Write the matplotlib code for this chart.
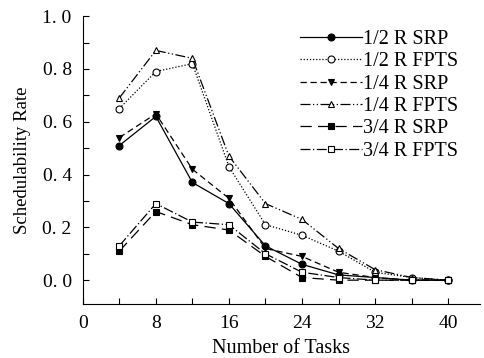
import matplotlib
matplotlib.use("Agg")
from matplotlib import pyplot as plt
import matplotlib.ticker

tasks = [4, 8, 12, 16, 20, 24, 28, 32, 36, 40]
labels = ["1/2 R SRP", "1/2 R FPTS", "1/4 R SRP", "1/4 R FPTS", "3/4 R SRP", "3/4 R FPTS"]
srp_half = [0.51, 0.62, 0.37, 0.29, 0.13, 0.06, 0.02, 0.01, 0.0, 0.0]
fpts_half = [0.65, 0.79, 0.82, 0.43, 0.21, 0.17, 0.11, 0.03, 0.01, 0.0]
srp_quarter = [0.54, 0.63, 0.42, 0.31, 0.12, 0.09, 0.03, 0.01, 0.0, 0.0]
fpts_quarter = [0.69, 0.87, 0.84, 0.47, 0.29, 0.23, 0.12, 0.04, 0.01, 0.0]
srp_three = [0.11, 0.26, 0.21, 0.19, 0.09, 0.01, 0.0, 0.0, 0.0, 0.0]
fpts_three = [0.13, 0.29, 0.22, 0.21, 0.10, 0.03, 0.01, 0.0, 0.0, 0.0]


def main():
    plt.rcParams['font.family'] = ['Liberation Serif', 'DejaVu Serif']
    fig = plt.figure(figsize=(4.84, 3.58), dpi=100)
    ax = fig.add_axes([0.171, 0.151, 0.821, 0.804])

    series = [srp_half, fpts_half, srp_quarter, fpts_quarter, srp_three, fpts_three]
    styles = [
        ('-', 'o', 'black'),
        ((0, (1, 1.5)), 'o', 'white'),
        ((0, (5, 3)), 'v', 'black'),
        ((0, (8, 2, 1, 2, 1, 2)), '^', 'white'),
        ((0, (9, 5)), 's', 'black'),
        ((0, (8, 2, 1, 2)), 's', 'white'),
    ]
    for vals, lab, (ls, mk, fc) in zip(series, labels, styles):
        ax.plot(tasks, vals, linestyle=ls, color='black', linewidth=0.9,
                marker=mk, markersize=5, markerfacecolor=fc,
                markeredgecolor='black', markeredgewidth=0.8, label=lab)

    ax.set_xlim(0, 43.5)
    ax.set_ylim(-0.09, 1.0)
    ax.set_xticks([0, 8, 16, 24, 32, 40])
    ax.set_xticks([4, 12, 20, 28, 36], minor=True)
    ax.set_yticks([0.0, 0.2, 0.4, 0.6, 0.8, 1.0])
    ax.set_yticks([0.1, 0.3, 0.5, 0.7, 0.9], minor=True)
    ax.yaxis.set_major_formatter(matplotlib.ticker.FuncFormatter(
        lambda y, p: ("%.1f" % y).replace('.', '. ')))
    ax.tick_params(which='both', direction='in', length=4, width=0.8, labelsize=14)
    ax.tick_params(axis='x', pad=8)
    ax.tick_params(axis='y', pad=8)
    for s in ['top', 'right']:
        ax.spines[s].set_visible(False)

    ax.set_xlabel("Number of Tasks", fontsize=14.5, labelpad=5)
    ax.set_ylabel("Schedulability Rate", fontsize=13.5, labelpad=8)
    ax.legend(loc='upper left', bbox_to_anchor=(300 / 484, 1 - 30 / 358),
              bbox_transform=fig.transFigure, frameon=False,
              fontsize=14.5, handlelength=3.1, handletextpad=0.05,
              labelspacing=0.16, borderaxespad=0.0, borderpad=0.0)

    fig.savefig("out.png", dpi=100)


if __name__ == "__main__":
    main()
